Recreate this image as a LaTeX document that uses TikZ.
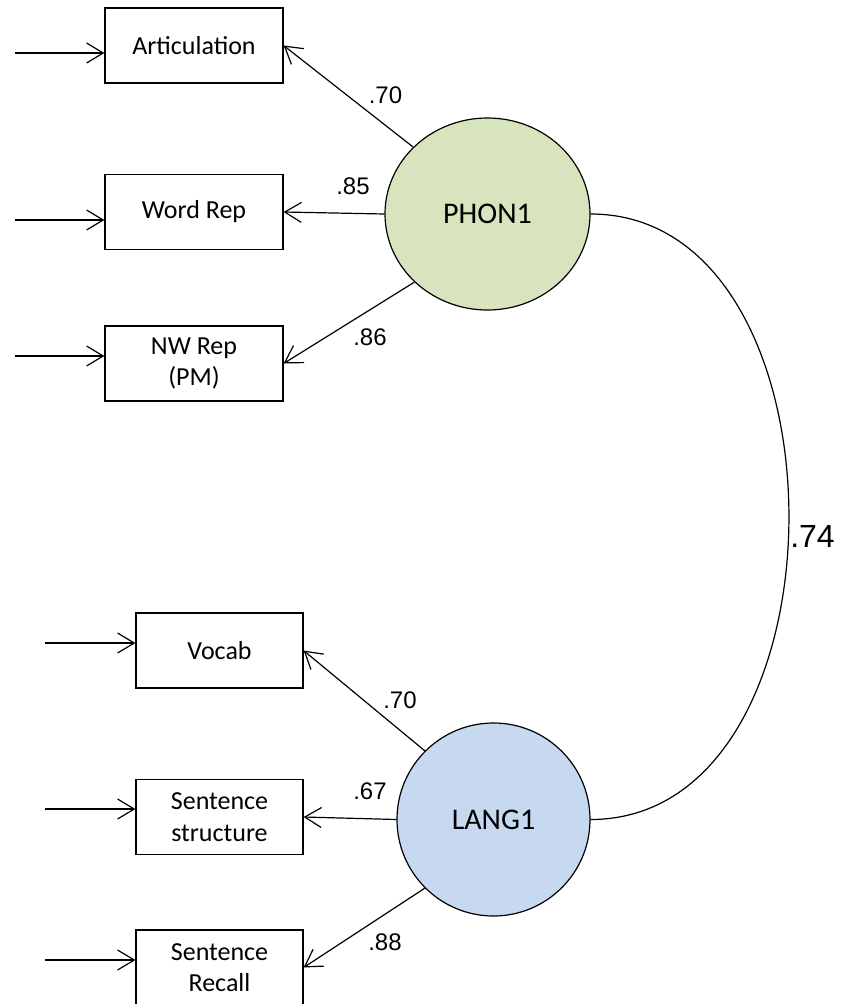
\documentclass[tikz,border=0pt]{standalone}
\usepackage{fontspec}
\setmainfont{Carlito}
\newfontfamily\arialfont{Liberation Sans}
\usetikzlibrary{arrows.meta,shapes.geometric}
\definecolor{phongreen}{RGB}{215,228,189}
\definecolor{langblue}{RGB}{198,217,241}

\begin{document}
\begin{tikzpicture}[x=0.75pt,y=-0.75pt,line width=0.9pt,
    obs/.style={draw,minimum height=56.25pt,align=center,inner sep=0pt,font=\fontsize{19.5}{23.5}\selectfont},
    lat/.style={draw,ellipse,inner sep=0pt,font=\fontsize{22.5}{27}\selectfont},
    load/.style={inner sep=0pt,font=\arialfont\fontsize{18}{20}\selectfont},
    tip/.style={-{Straight Barb[length=12.5pt,width=15pt]}}]
  \useasboundingbox (0,0) rectangle (845,1004);

  % latent factors
  \node[lat,fill=phongreen,minimum width=153.75pt,minimum height=144pt] (phon) at (487.5,214) {PHON1};
  \node[lat,fill=langblue,minimum width=144.75pt,minimum height=144.75pt] (lang) at (493.5,819.5) {LANG1};

  % indicators
  \node[obs,minimum width=133.5pt] (art) at (194,45.5) {Articulation};
  \node[obs,minimum width=133.5pt] (word) at (194,212) {Word Rep};
  \node[obs,minimum width=133.5pt] (nw) at (194,363.5) {NW Rep\\(PM)};
  \node[obs,minimum width=125.25pt] (vocab) at (219.5,650.5) {Vocab};
  \node[obs,minimum width=125.25pt] (sstruct) at (219.5,817) {Sentence\\structure};
  \node[obs,minimum width=125.25pt] (srecall) at (219.5,967.5) {Sentence\\Recall};

  % error terms
  \coordinate (art-e) at (15,53); \coordinate (word-e) at (15,220); \coordinate (nw-e) at (15,356);
  \coordinate (vocab-e) at (45,643); \coordinate (sstruct-e) at (45,809); \coordinate (srecall-e) at (45,960);
  \draw[tip] (art-e) -- (art-e -| art.west);
  \draw[tip] (word-e) -- (word-e -| word.west);
  \draw[tip] (nw-e) -- (nw-e -| nw.west);
  \draw[tip] (vocab-e) -- (vocab-e -| vocab.west);
  \draw[tip] (sstruct-e) -- (sstruct-e -| sstruct.west);
  \draw[tip] (srecall-e) -- (srecall-e -| srecall.west);

  % loadings
  \draw[tip] (phon.138) -- (art.east);
  \draw[tip] (phon.west) -- (word.east);
  \draw[tip] (phon.223) -- (nw.east);
  \draw[tip] (lang.135) -- (vocab.east);
  \draw[tip] (lang.west) -- (sstruct.east);
  \draw[tip] (lang.225) -- (srecall.east);
  \node[load] (l-art) at (385.5,95.5) {.70};
  \node[load] (l-word) at (353,186.5) {.85};
  \node[load] (l-nw) at (370,337) {.86};
  \node[load] (l-vocab) at (400,700.5) {.70};
  \node[load] (l-sstruct) at (370,791) {.67};
  \node[load] (l-srecall) at (385,942) {.88};

  % correlation
  \draw (phon.east) to[out=0,in=0,looseness=1.12] (lang.east);
  \node[inner sep=0pt,font=\arialfont\fontsize{24}{26}\selectfont] (corr) at (812.5,536.5) {.74};
\end{tikzpicture}
\end{document}
